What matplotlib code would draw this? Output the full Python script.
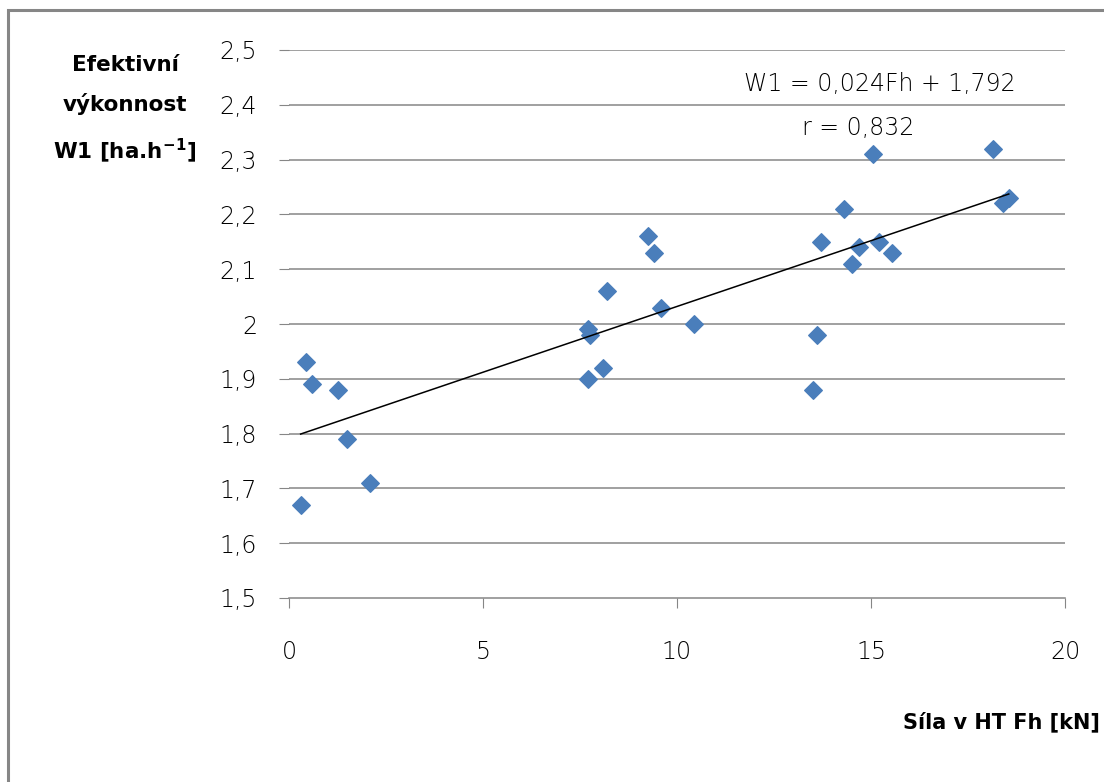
import numpy as np
import matplotlib.pyplot as plt
from matplotlib.patches import Rectangle

# measured pairs: pulling force Fh [kN] vs effective output W1 [ha/h]
sila_fh = [0.3, 0.45, 0.6, 1.25, 1.5, 2.1,
           7.7, 7.75, 7.7, 8.1, 8.2, 9.25, 9.4, 9.6, 10.45,
           13.5, 13.6, 13.7, 14.3, 14.5, 14.7, 15.05, 15.2, 15.55,
           18.15, 18.4, 18.55]
vykon_w1 = [1.67, 1.93, 1.89, 1.88, 1.79, 1.71,
            1.99, 1.98, 1.90, 1.92, 2.06, 2.16, 2.13, 2.03, 2.00,
            1.88, 1.98, 2.15, 2.21, 2.11, 2.14, 2.31, 2.15, 2.13,
            2.32, 2.22, 2.23]

# regression coefficients shown on the chart
slope = 0.024
intercept = 1.792
r_value = 0.832

y_ticks = [1.5, 1.6, 1.7, 1.8, 1.9, 2.0, 2.1, 2.2, 2.3, 2.4, 2.5]
y_labels = ['1,5', '1,6', '1,7', '1,8', '1,9', '2', '2,1', '2,2', '2,3', '2,4', '2,5']
x_ticks = [0, 5, 10, 15, 20]

fnt = ['DejaVu Sans']
thin = 'ultralight'
grid_col = '#868686'

fig = plt.figure(figsize=(11.04, 7.82), dpi=100)
W, H = 1104, 782
ax = fig.add_axes([289 / W, 1 - 598 / H, (1065 - 289) / W, (598 - 50) / H])

# chart frame
fig.patches.append(Rectangle((8 / W, -0.1), 1.2, 1 - 10 / H + 0.1,
                             transform=fig.transFigure, fill=False,
                             edgecolor=grid_col, linewidth=2.2))

for yv in y_ticks[1:]:
    ax.axhline(yv, color=grid_col, linewidth=1.1, zorder=1)

ax.scatter(sila_fh, vykon_w1, marker='D', s=80, color='#4A7EBB',
           edgecolors='#4A7EBB', zorder=3)

fx = np.array([min(sila_fh), max(sila_fh)])
ax.plot(fx, slope * fx + intercept, color='black', linewidth=1.1, zorder=4)

ax.set_xlim(0, 20)
ax.set_ylim(1.5, 2.5)
ax.set_xticks(x_ticks)
ax.set_yticks(y_ticks)
ax.set_xticklabels([str(v) for v in x_ticks], fontsize=17, family=fnt,
                   fontweight=thin)
ax.set_yticklabels(y_labels, fontsize=17, family=fnt, fontweight=thin)
ax.tick_params(axis='y', length=7, width=0.8, color=grid_col, pad=16)
ax.tick_params(axis='x', length=7, width=0.8, color=grid_col, pad=23)

for side in ['left', 'right', 'top']:
    ax.spines[side].set_visible(False)
ax.spines['bottom'].set_color(grid_col)
ax.spines['bottom'].set_linewidth(1.1)

ax.text(0.762, 0.938, 'W1 = 0,024Fh + 1,792', transform=ax.transAxes,
        fontsize=17, family=fnt, fontweight=thin, ha='center', va='center')
ax.text(0.733, 0.858, 'r = %s' % str(r_value).replace('.', ','),
        transform=ax.transAxes, fontsize=17, family=fnt, fontweight=thin,
        ha='center', va='center')

fig.text(125 / W, 1 - 110 / H, 'Efektivní\nvýkonnost\nW1 [ha.h$^{\\mathregular{-1}}$]',
         fontsize=15.5, fontweight='bold', family=fnt, ha='center', va='center',
         linespacing=1.97)
fig.text(1100 / W, 1 - 722 / H, 'Síla v HT Fh [kN]', fontsize=15,
         fontweight='bold', family=fnt, ha='right', va='center')

fig.savefig('out.png', dpi=100)
